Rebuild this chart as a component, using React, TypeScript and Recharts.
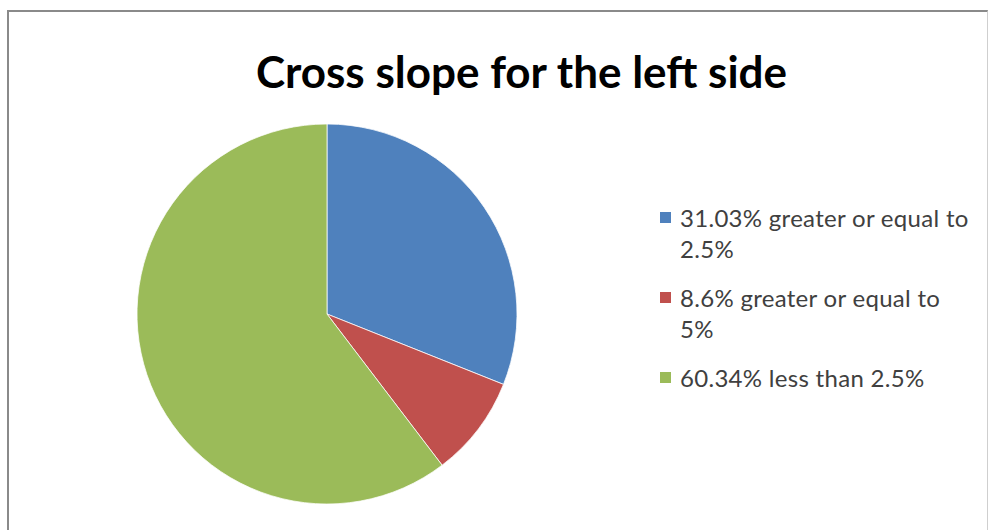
import React from 'react';
import { PieChart, Pie, Cell, Legend } from 'recharts';

const categories = [
  '31.03% greater or equal to\n2.5%',
  '8.6% greater or equal to\n5%',
  '60.34% less than 2.5%',
];
const shares = [31.03, 8.6, 60.34];
const colors = ['#4F81BD', '#C0504D', '#9BBB59'];

const chartData = categories.map((name, i) => ({ name, value: shares[i] }));

// keep legend in data order (recharts sorts the payload by default)
const renderLegend = (props: any) => {
  const items = [...(props.payload || [])].sort(
    (a: any, b: any) => categories.indexOf(a.value) - categories.indexOf(b.value)
  );
  return (
    <ul style={{ listStyle: 'none', margin: 0, padding: 0 }}>
      {items.map((entry: any, i: number) => (
        <li
          key={i}
          style={{ display: 'flex', alignItems: 'flex-start', marginBottom: 18 }}
        >
          <span
            style={{
              display: 'inline-block',
              width: 11,
              height: 11,
              marginTop: 10,
              marginRight: 9,
              background: entry.color,
              flex: 'none',
            }}
          />
          <span
            style={{
              fontFamily: 'Lato, sans-serif',
              fontSize: 24,
              letterSpacing: 0.3,
              lineHeight: '31px',
              color: '#404040',
              whiteSpace: 'pre-line',
            }}
          >
            {entry.value}
          </span>
        </li>
      ))}
    </ul>
  );
};

export default function App() {
  return (
    <div
      style={{
        position: 'absolute',
        left: 0,
        top: 0,
        width: 988,
        height: 530,
        background: '#ffffff',
        overflow: 'hidden',
      }}
    >
      {/* chart frame */}
      <div
        style={{
          position: 'absolute',
          left: 7,
          top: 10,
          width: 978,
          height: 540,
          borderTop: '2px solid #8a8a8a',
          borderLeft: '2px solid #8a8a8a',
          borderRight: '1px solid #cfcfcf',
        }}
      />
      <div
        style={{
          position: 'absolute',
          left: 0,
          width: 1043,
          top: 49,
          textAlign: 'center',
          fontFamily: 'Lato, sans-serif',
          fontWeight: 700,
          fontSize: 44,
          lineHeight: '44px',
          color: '#000000',
          whiteSpace: 'nowrap',
        }}
      >
        Cross slope for the left side
      </div>
      <div style={{ position: 'absolute', left: 0, top: 0 }}>
        <PieChart width={988} height={530} margin={{ top: 0, right: 0, bottom: 0, left: 0 }}>
          <Pie
            data={chartData}
            dataKey="value"
            nameKey="name"
            cx={327}
            cy={314}
            outerRadius={190}
            startAngle={90}
            endAngle={-270}
            stroke="#ffffff"
            strokeWidth={0.75}
            isAnimationActive={false}
          >
            {chartData.map((_, i) => (
              <Cell key={i} fill={colors[i]} />
            ))}
          </Pie>
          <Legend
            layout="vertical"
            align="right"
            verticalAlign="top"
            content={renderLegend}
            wrapperStyle={{ left: 660, top: 202, width: 325, right: 'auto', bottom: 'auto' }}
          />
        </PieChart>
      </div>
    </div>
  );
}
